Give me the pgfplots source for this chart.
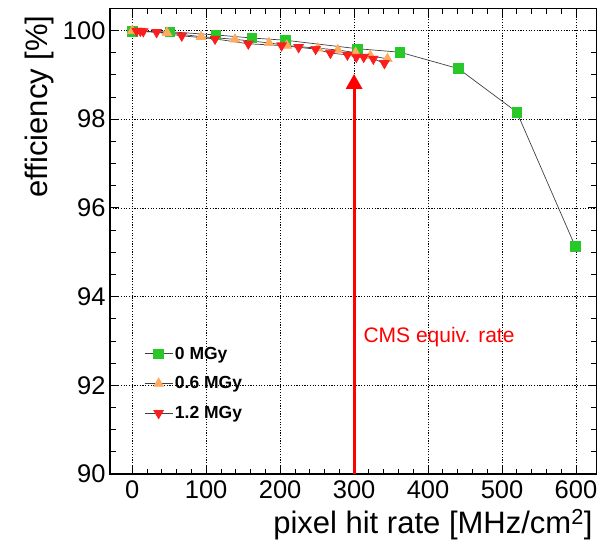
\documentclass[border=0pt]{standalone}
\usepackage{fontspec}
\setmainfont{Liberation Sans}
\usepackage{pgfplots}
\pgfplotsset{compat=1.18}
\usetikzlibrary{arrows.meta}
\definecolor{rgreen}{RGB}{40,200,40}
\definecolor{rorange}{RGB}{255,170,95}
\definecolor{rred}{RGB}{250,30,30}
\begin{document}
\begin{tikzpicture}
\path (0,0) rectangle (607pt,543pt);
\begin{axis}[
  at={(110pt,69pt)}, anchor=south west,
  scale only axis, width=486.7pt, height=465.7pt,
  xmin=-30, xmax=628, ymin=90, ymax=100.5,
  xtick={0,100,...,600}, minor x tick num=4,
  ytick={90,92,...,100}, minor y tick num=3,
  tick align=inside,
  major tick length=9pt, minor tick length=5.5pt,
  every tick/.style={black, line width=0.8pt},
  axis line style={line width=1.1pt},
  grid=major,
  major grid style={black, line width=0.6pt, dash pattern=on 1.2pt off 1.5pt},
  /pgf/number format/assume math mode=true,
  ticklabel style={font=\fontsize{25.5}{25.5}\selectfont},
  xticklabel style={yshift=-3pt},
  yticklabel style={xshift=-1pt},
  xlabel={pixel hit rate [MHz/cm\textsuperscript{2}]},
  ylabel={efficiency [\%]},
  label style={font=\fontsize{31}{31}\selectfont},
  xlabel style={at={(axis description cs:0.9986,-0.1288)}, anchor=base east},
  ylabel style={at={(axis description cs:-0.1294,0.992)}, anchor=base east},
  legend style={draw=none, fill=none, at={(axis cs:12,92.96)}, anchor=north west,
    font=\bfseries\fontsize{17.5}{17.5}\selectfont, row sep=12pt,
    /tikz/every even column/.append style={column sep=0pt}},
  legend cell align=left,
  legend image code/.code={\draw[mark repeat=2,mark phase=2] plot coordinates {(0pt,0pt)(14pt,0pt)(28pt,0pt)};},
]
\addplot[black!75, line width=0.7pt, mark=square*, mark size=4.8pt,
  mark options={draw=rgreen, fill=rgreen, solid}]
  coordinates {(0,99.98)(51,99.97)(113,99.90)(162,99.83)(207,99.78)(304,99.59)(362,99.51)(441,99.14)(520,98.16)(599,95.13)};
\addlegendentry{0 MGy}
\addplot[black!75, line width=0.7pt, mark=triangle*, mark size=5.5pt,
  mark options={draw=rorange, fill=rorange, solid}]
  coordinates {(0,99.99)(47,99.95)(93,99.86)(139,99.80)(185,99.72)(209,99.66)(251,99.60)(278,99.56)(302,99.50)(322,99.43)(345,99.36)};
\addlegendentry{0.6 MGy}
\addplot[black!75, line width=0.7pt, mark=triangle*, mark size=5.5pt,
  mark options={draw=rred, fill=rred, solid, rotate=180}]
  coordinates {(6,99.99)(11,99.99)(15,99.98)(33,99.96)(67,99.88)(112,99.81)(157,99.70)(202,99.66)(225,99.62)(248,99.58)(268,99.49)(291,99.45)(303,99.40)(313,99.40)(326,99.36)(341,99.26)};
\addlegendentry{1.2 MGy}
\addplot[red, line width=3pt, -{Triangle[width=16pt,length=15pt]}, forget plot]
  coordinates {(300,90)(300,99.02)};
\node[red, anchor=west, font=\fontsize{21}{21}\selectfont] at (axis cs:308,93.08) {CMS equiv. rate};
\end{axis}
\end{tikzpicture}
\end{document}
